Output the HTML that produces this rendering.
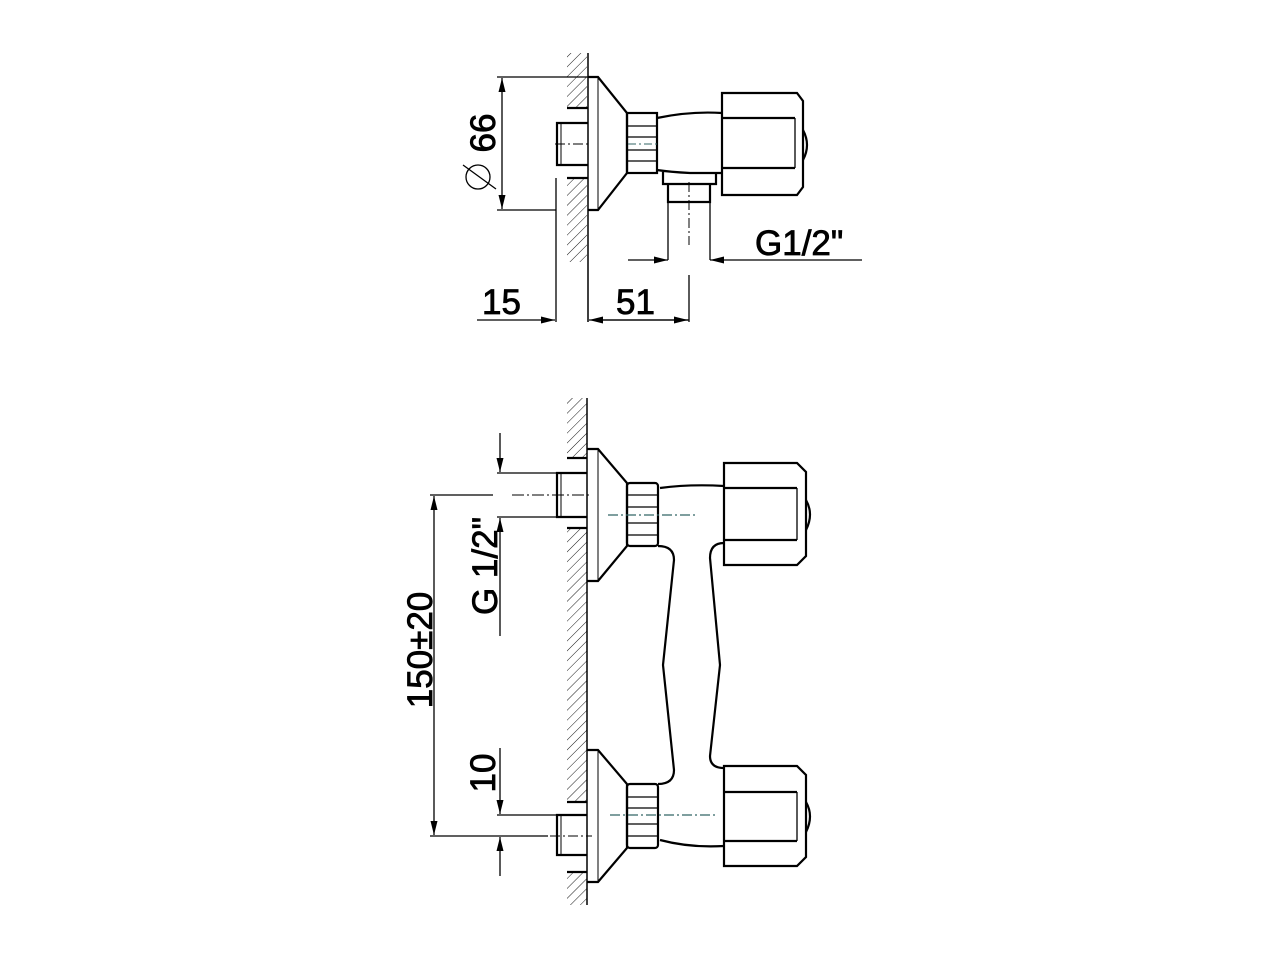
<!DOCTYPE html>
<html><head><meta charset="utf-8"><style>html,body{margin:0;padding:0;background:#fff}svg{display:block}text{font-family:"Liberation Sans",sans-serif;fill:#000;stroke:#000;stroke-width:0.8}</style></head><body>
<svg width="1280" height="960" viewBox="0 0 1280 960" xmlns="http://www.w3.org/2000/svg">
<defs>
<pattern id="h" width="7" height="7" patternUnits="userSpaceOnUse" patternTransform="rotate(45)"><line x1="0" y1="0" x2="0" y2="7" stroke="#000" stroke-width="0.9"/></pattern>
<marker id="a" viewBox="0 0 14 7" refX="14" refY="3.5" markerWidth="14" markerHeight="7" markerUnits="userSpaceOnUse" orient="auto"><path d="M0,0L14,3.5L0,7z" fill="#000"/></marker>
</defs>
<g fill="none" stroke="#000" stroke-width="2.2">
<!-- TOP VIEW -->
<rect x="567" y="53" width="20" height="55" fill="url(#h)" stroke="none"/>
<rect x="567" y="178" width="20" height="84" fill="url(#h)" stroke="none"/>
<line x1="588" y1="53" x2="588" y2="322" stroke-width="1.5"/>
<line x1="556" y1="178" x2="556" y2="322" stroke-width="1.3"/>
<line x1="567" y1="108" x2="588" y2="108"/><line x1="567" y1="178" x2="588" y2="178"/>
<path d="M588,123H557V165H588"/><line x1="561" y1="123" x2="561" y2="165" stroke-width="1"/>
<line x1="555" y1="144" x2="588" y2="144" stroke-width="1" stroke-dasharray="10,3,2,3"/>
<path d="M588,77H598L627,113V173L598,210H588"/>
<line x1="598" y1="77" x2="598" y2="210" stroke-width="1"/>
<rect x="627" y="113" width="30" height="60"/>
<line x1="627" y1="126" x2="657" y2="126" stroke-width="1.3"/><line x1="627" y1="137" x2="657" y2="137" stroke-width="1.3"/><line x1="627" y1="150" x2="657" y2="150" stroke-width="1.3"/><line x1="627" y1="161" x2="657" y2="161" stroke-width="1.3"/>
<line x1="628" y1="144" x2="660" y2="144" stroke="#366" stroke-width="1" stroke-dasharray="8,3,2,3"/>
<path d="M657,118Q690,111 722,113"/>
<path d="M657,170Q670,172 690,173H722"/>
<path d="M722,93H797L803,101V187L797,195H722Z"/>
<line x1="722" y1="118" x2="795" y2="118"/><line x1="722" y1="168" x2="795" y2="168"/><line x1="795" y1="118" x2="795" y2="168" stroke-width="1.3"/>
<path d="M803,130Q811,145 803,160"/>
<path d="M663,172V184H716V172"/>
<path d="M668,184V202H710V184"/>
<line x1="689" y1="182" x2="689" y2="245" stroke-width="1" stroke-dasharray="10,3,2,3"/>
<line x1="689" y1="275" x2="689" y2="322" stroke-width="1.3"/>
<line x1="668" y1="202" x2="668" y2="260" stroke-width="1.3"/><line x1="710" y1="202" x2="710" y2="260" stroke-width="1.3"/>
<line x1="628" y1="260" x2="668" y2="260" stroke-width="1.3" marker-end="url(#a)"/>
<line x1="862" y1="260" x2="710" y2="260" stroke-width="1.3" marker-end="url(#a)"/>
<line x1="497" y1="77" x2="588" y2="77" stroke-width="1.3"/><line x1="497" y1="210" x2="556" y2="210" stroke-width="1.3"/>
<line x1="502" y1="143" x2="502" y2="78" stroke-width="1.3" marker-end="url(#a)"/>
<line x1="502" y1="143" x2="502" y2="209" stroke-width="1.3" marker-end="url(#a)"/>
<circle cx="478" cy="177" r="12" stroke-width="1.3"/><line x1="463" y1="165" x2="496" y2="189" stroke-width="1.3"/>
<line x1="477" y1="320" x2="555" y2="320" stroke-width="1.3" marker-end="url(#a)"/>
<line x1="689" y1="320" x2="589" y2="320" stroke-width="1.3" marker-end="url(#a)"/>
<line x1="600" y1="320" x2="688" y2="320" stroke-width="1.3" marker-end="url(#a)"/>

<!-- FRONT VIEW -->
<rect x="567" y="398" width="20" height="60" fill="url(#h)" stroke="none"/>
<rect x="567" y="528" width="20" height="274" fill="url(#h)" stroke="none"/>
<rect x="567" y="872" width="20" height="33" fill="url(#h)" stroke="none"/>
<line x1="587" y1="398" x2="587" y2="905" stroke-width="1.5"/>
<line x1="567" y1="458" x2="587" y2="458"/><line x1="567" y1="528" x2="587" y2="528"/>
<line x1="567" y1="802" x2="587" y2="802"/><line x1="567" y1="872" x2="587" y2="872"/>
<path d="M587,473H557V517H587"/><line x1="561" y1="473" x2="561" y2="517" stroke-width="1"/>
<path d="M587,815H557V855H587"/><line x1="561" y1="815" x2="561" y2="855" stroke-width="1"/>
<path d="M587,449H598L627,483V546L598,581H587"/><line x1="598" y1="449" x2="598" y2="581" stroke-width="1"/>
<path d="M587,750H598L627,784V848L598,882H587"/><line x1="598" y1="750" x2="598" y2="882" stroke-width="1"/>
<rect x="627" y="483" width="31" height="63" rx="3"/>
<line x1="627" y1="495" x2="658" y2="495" stroke-width="1.3"/><line x1="627" y1="507" x2="658" y2="507" stroke-width="1.3"/><line x1="627" y1="523" x2="658" y2="523" stroke-width="1.3"/><line x1="627" y1="535" x2="658" y2="535" stroke-width="1.3"/>
<rect x="627" y="784" width="31" height="64" rx="3"/>
<line x1="627" y1="797" x2="658" y2="797" stroke-width="1.3"/><line x1="627" y1="808" x2="658" y2="808" stroke-width="1.3"/><line x1="627" y1="824" x2="658" y2="824" stroke-width="1.3"/><line x1="627" y1="836" x2="658" y2="836" stroke-width="1.3"/>
<path d="M660,488Q690,484 724,486"/>
<path d="M658,546Q674,546 674,560L663,665L674,770Q674,784 658,784"/>
<path d="M724,543Q710,543 710,558L720,665L710,756Q710,768 724,768"/>
<path d="M660,840Q690,848 724,846"/>
<path d="M724,463H797L806,472V556L797,565H724Z"/>
<line x1="724" y1="488" x2="797" y2="488"/><line x1="724" y1="540" x2="797" y2="540"/><line x1="797" y1="488" x2="797" y2="540" stroke-width="1.3"/>
<path d="M806,500Q814,514 806,530"/>
<path d="M724,766H797L806,775V857L797,866H724Z"/>
<line x1="724" y1="792" x2="797" y2="792"/><line x1="724" y1="841" x2="797" y2="841"/><line x1="797" y1="792" x2="797" y2="841" stroke-width="1.3"/>
<path d="M806,802Q814,816 806,832"/>
<line x1="608" y1="515" x2="698" y2="515" stroke="#366" stroke-width="1.2" stroke-dasharray="10,3,2,3"/>
<line x1="610" y1="815" x2="715" y2="815" stroke="#366" stroke-width="1.2" stroke-dasharray="10,3,2,3"/>
<line x1="430" y1="495" x2="493" y2="495" stroke-width="1.3"/>
<line x1="512" y1="495" x2="590" y2="495" stroke-width="1" stroke-dasharray="12,3,2,3"/>
<line x1="430" y1="836" x2="548" y2="836" stroke-width="1.3"/>
<line x1="550" y1="836" x2="592" y2="836" stroke-width="1" stroke-dasharray="10,3,2,3"/>
<line x1="434" y1="665" x2="434" y2="496" stroke-width="1.3" marker-end="url(#a)"/>
<line x1="434" y1="665" x2="434" y2="835" stroke-width="1.3" marker-end="url(#a)"/>
<line x1="497" y1="473" x2="557" y2="473" stroke-width="1.3"/><line x1="497" y1="517" x2="557" y2="517" stroke-width="1.3"/>
<line x1="500" y1="433" x2="500" y2="472" stroke-width="1.3" marker-end="url(#a)"/>
<line x1="500" y1="636" x2="500" y2="518" stroke-width="1.3" marker-end="url(#a)"/>
<line x1="500" y1="748" x2="500" y2="814" stroke-width="1.3" marker-end="url(#a)"/>
<line x1="500" y1="876" x2="500" y2="837" stroke-width="1.3" marker-end="url(#a)"/>
<line x1="497" y1="815" x2="557" y2="815" stroke-width="1.3"/>
</g>
<text x="755" y="255" font-size="35">G1/2"</text>
<text x="482" y="314" font-size="35">15</text>
<text x="616" y="314" font-size="35">51</text>
<text transform="translate(495,133) rotate(-90)" text-anchor="middle" font-size="35">66</text>
<text transform="translate(432,650) rotate(-90)" text-anchor="middle" font-size="35">150±20</text>
<text transform="translate(497,566) rotate(-90)" text-anchor="middle" font-size="35">G 1/2"</text>
<text transform="translate(495,773) rotate(-90)" text-anchor="middle" font-size="35">10</text>
</svg>
</body></html>
